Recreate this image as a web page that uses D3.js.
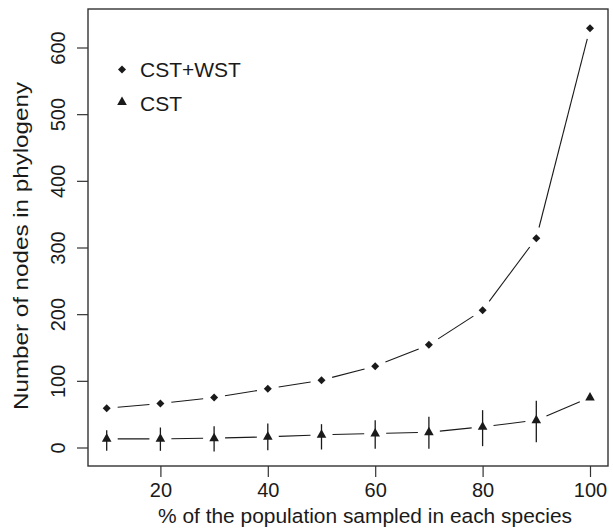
<!DOCTYPE html>
<html><head><meta charset="utf-8">
<script src="https://cdn.jsdelivr.net/npm/d3@7"></script>
<style>body{margin:0;background:#fff}svg{display:block}text{font-family:"Liberation Sans",Arial,sans-serif;fill:#1a1a1a}</style>
</head><body><svg id="c" width="613" height="531"></svg>
<script>
const percent = [10,20,30,40,50,60,70,80,90,100];
const cstWst = [59,66,75,88,101,122,154,206,314,629];
const cst = [13,13,14,16,19,21,23,31,41,75];
const cstLow = [-5,-5,-6,-4,-3,-2,-2,2,8,null];
const cstHigh = [26,30,32,36,35,41,46,56,70,null];
const xTicks = [20,40,60,80,100];
const yTicks = [0,100,200,300,400,500,600];
const seriesNames = ["CST+WST","CST"];

const svg = d3.select("#c");
const L=88, R=608, T=9, B=466;
const x = d3.scaleLinear().domain([10,100]).range([106.7,590]);
const y = d3.scaleLinear().domain([0,600]).range([447.5,47.5]);
const ink = "#1a1a1a";

// frame
svg.append("rect").attr("x",L).attr("y",T).attr("width",R-L).attr("height",B-T)
  .attr("fill","none").attr("stroke","#333").attr("stroke-width",1.4);

// x axis
const xa = svg.append("g").attr("transform",`translate(0,${B})`)
  .call(d3.axisBottom(x).tickValues(xTicks).tickSize(11).tickPadding(4).tickFormat(d3.format("d")));
xa.select(".domain").remove();
xa.selectAll("line").attr("stroke","#333").attr("stroke-width",1.2);
xa.selectAll("text").attr("font-size","20px").attr("fill",ink).attr("dy",null).attr("y",31);

// y axis
const ya = svg.append("g").attr("transform",`translate(${L},0)`)
  .call(d3.axisLeft(y).tickValues(yTicks).tickSize(11).tickFormat(d3.format("d")));
ya.select(".domain").remove();
ya.selectAll("line").attr("stroke","#333").attr("stroke-width",1.2);
ya.selectAll("text").attr("font-size","20px").attr("fill",ink)
  .attr("x",null).attr("dy",null).attr("text-anchor","middle")
  .attr("transform","translate(-23,0) rotate(-90)");

// titles
svg.append("text").attr("x",365).attr("y",523).attr("text-anchor","middle")
  .attr("font-size","20.5px").attr("textLength",414).attr("lengthAdjust","spacingAndGlyphs")
  .text("% of the population sampled in each species");
svg.append("text").attr("transform","translate(27.5,246) rotate(-90)").attr("text-anchor","middle")
  .attr("font-size","21px").attr("textLength",328).attr("lengthAdjust","spacingAndGlyphs")
  .text("Number of nodes in phylogeny");

// gapped lines (type="b")
function gapped(vals, gap){
  const g = svg.append("g");
  for(let i=0;i<vals.length-1;i++){
    const x1=x(percent[i]), y1=y(vals[i]), x2=x(percent[i+1]), y2=y(vals[i+1]);
    const dx=x2-x1, dy=y2-y1, len=Math.hypot(dx,dy);
    if(len<=2*gap) continue;
    const ux=dx/len, uy=dy/len;
    g.append("line").attr("x1",x1+ux*gap).attr("y1",y1+uy*gap)
      .attr("x2",x2-ux*gap).attr("y2",y2-uy*gap)
      .attr("stroke",ink).attr("stroke-width",1.1);
  }
}
gapped(cstWst, 11);
gapped(cst, 11);

// error bars
svg.append("g").selectAll("line").data(percent.map((p,i)=>({p,lo:cstLow[i],hi:cstHigh[i]})).filter(d=>d.lo!==null))
  .join("line").attr("x1",d=>x(d.p)).attr("x2",d=>x(d.p))
  .attr("y1",d=>y(d.lo)).attr("y2",d=>y(d.hi)).attr("stroke",ink).attr("stroke-width",1.3);

const diamond = "M0,-4L4,0L0,4L-4,0Z";
const tri = "M0,-5.5L4.8,3L-4.8,3Z";
svg.append("g").selectAll("path").data(cstWst).join("path")
  .attr("d",diamond).attr("fill",ink)
  .attr("transform",(d,i)=>`translate(${x(percent[i])},${y(d)})`);
svg.append("g").selectAll("path").data(cst).join("path")
  .attr("d",tri).attr("fill",ink)
  .attr("transform",(d,i)=>`translate(${x(percent[i])},${y(d)})`);

// legend
svg.append("path").attr("d",diamond).attr("fill",ink).attr("transform","translate(122,69.5)");
svg.append("text").attr("x",140).attr("y",77).attr("font-size","21px").text(seriesNames[0]);
svg.append("path").attr("d",tri).attr("fill",ink).attr("transform","translate(122,102)");
svg.append("text").attr("x",140).attr("y",110.5).attr("font-size","21px").text(seriesNames[1]);
</script></body></html>
